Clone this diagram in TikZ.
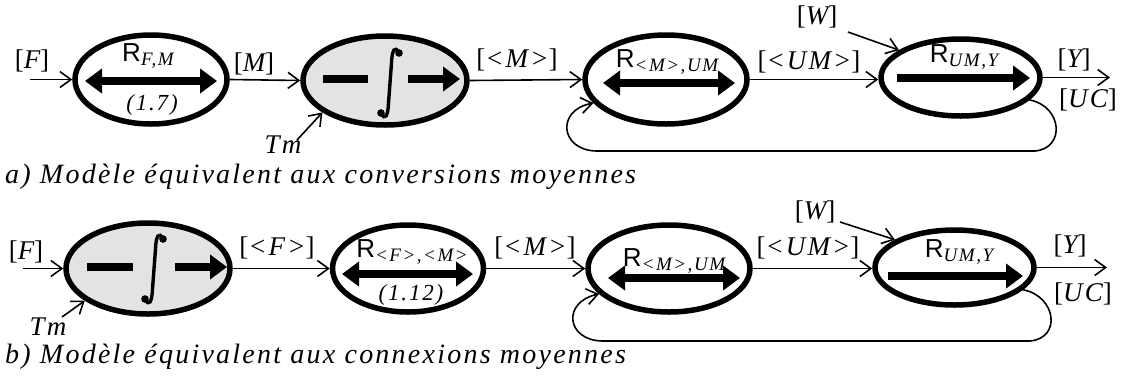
\documentclass[tikz,border=0pt]{standalone}
\usepackage{fontspec}
\setmainfont{Liberation Serif}
\newfontfamily\sansR{Liberation Sans}
\newfontfamily\spaced[LetterSpace=8,ItalicFont={Liberation Serif Italic}]{Liberation Serif}
\usetikzlibrary{arrows.meta,shapes.geometric}
\tikzset{
 ell/.style={ellipse, draw, line width=5.5pt, inner sep=0pt},
 shadedell/.style={ell, fill=black!11},
 conn/.style={line width=1.6pt, -{Straight Barb[length=11pt,width=16pt,line width=1.6pt]}},
 fb/.style={line width=1.6pt, -{Straight Barb[length=11pt,width=16pt,line width=1.6pt]}},
 lbl/.style={inner sep=0pt, font=\spaced\itshape\fontsize{27}{30}\selectfont},
 thickarr/.style={line width=7.5pt, -{Triangle[length=17pt,width=24pt]}},
 dblarr/.style={line width=7.5pt, {Triangle[length=17pt,width=24pt]}-{Triangle[length=17pt,width=24pt]}},
 barline/.style={line width=7.5pt},
 integ/.style={line width=3.4pt, line cap=round},
 rl/.style={inner sep=0pt},
 captxt/.style={inner sep=0pt, anchor=base west, font=\spaced\itshape\fontsize{28}{30}\selectfont},
 eqn/.style={inner sep=0pt, font=\spaced\itshape\fontsize{23}{26}\selectfont}
}
\newcommand\Rlab[1]{{\sansR\fontsize{26}{28}\selectfont R}\raisebox{-4pt}{\spaced\itshape\fontsize{19}{21}\selectfont #1}}
\newcommand\brk[1]{{\upshape[}#1{\upshape]}}
\newcommand\integralsign[2]{%
  \draw[integ] (#1+9,#2-30) .. controls (#1+5,#2-38) and (#1+2,#2-33) .. (#1+1.5,#2-20) -- (#1-1.5,#2+20) .. controls (#1-2,#2+33) and (#1-5,#2+38) .. (#1-9,#2+30);
  \fill (#1+9,#2-30) circle[radius=3.8pt];
  \fill (#1-9,#2+30) circle[radius=3.8pt];}
\begin{document}
\begin{tikzpicture}[x=1pt,y=-1pt]
\useasboundingbox (0,0) rectangle (1125,376);
% ---------------- row a ----------------
\node[ell, minimum width=152pt, minimum height=89pt] (a1) at (151,79.5) {};
\node[shadedell, minimum width=164pt, minimum height=89pt] (a2) at (385,80.5) {};
\node[ell, minimum width=162pt, minimum height=89pt] (a3) at (666,79.5) {};
\node[ell, minimum width=159pt, minimum height=77pt] (a4) at (960.5,77.5) {};
% inner glyphs
\draw[dblarr] (85,81) -- (217,81);
\draw[barline] (323,79) -- (368,79);
\integralsign{390}{83}
\draw[thickarr] (408,79) -- (460,79);
\draw[dblarr] (603,83) -- (735,83);
\draw[thickarr] (897,78) -- (1030,78);
% inner labels
\node[rl] (ra1) at (148,56) {\Rlab{F,M}};
\node[eqn] (eqa1) at (152,105) {(1.7)};
\node[rl] (ra3) at (667,62) {\Rlab{<M>,UM}};
\node[rl] (ra4) at (964,57) {\Rlab{UM,Y}};
% outer labels
\node[lbl] (lFa) at (32,61) {\brk{F}};
\node[lbl] (lMa) at (254,64) {\brk{M}};
\node[lbl] (lTma) at (283,145) {Tm};
\node[lbl] (lAMa) at (517,60) {\brk{<M>}};
\node[lbl] (lUMa) at (809,62) {\brk{<UM>}};
\node[lbl] (lWa) at (817,17) {\brk{W}};
\node[lbl] (lYa) at (1074,60) {\brk{Y}};
\node[lbl] (lUCa) at (1088,100) {\brk{UC}};
% connectors
\coordinate (Fa) at (30,79.5);
\coordinate (Tma) at (297,140);
\coordinate (Wa) at (848,32);
\coordinate (Ya) at (1110,77.5);
\draw[conn] (Fa) -- (a1.west);
\draw[conn] (a1.east) -- (a2.west);
\draw[conn] (Tma) -- (a2.207);
\draw[conn] (a2.east) -- (a3.west);
\draw[conn] (a3.east) -- (a3.east -| a4.west);
\draw[conn] (Wa) -- (a4.156);
\draw[conn] (a4.east) -- (Ya);
\draw[fb] (a4.342) .. controls (1062,106) and (1066,148) .. (1035,151) -- (596,151) .. controls (560,150) and (556,110) .. (a3.198);
\node[captxt] (capa) at (5,183) {a) Modèle équivalent aux conversions moyennes};
% ---------------- row b ----------------
\node[shadedell, minimum width=164pt, minimum height=91pt] (b1) at (148,268.5) {};
\node[ell, minimum width=151pt, minimum height=87pt] (b2) at (408,268.5) {};
\node[ell, minimum width=162pt, minimum height=87pt] (b3) at (669,268.5) {};
\node[ell, minimum width=159pt, minimum height=75pt] (b4) at (954.5,267.5) {};
\draw[barline] (87,267) -- (133,267);
\integralsign{154}{269}
\draw[thickarr] (175,267) -- (227,267);
\draw[dblarr] (342,274) -- (473,274);
\draw[dblarr] (608,278) -- (740,278);
\draw[thickarr] (888,276) -- (1023,276);
\node[rl] (rb2) at (412,252) {\Rlab{<F>,<M>}};
\node[eqn] (eqb2) at (411,295) {(1.12)};
\node[rl] (rb3) at (674,261) {\Rlab{<M>,UM}};
\node[rl] (rb4) at (959,252) {\Rlab{UM,Y}};
\node[lbl] (lFb) at (26,252) {\brk{F}};
\node[lbl] (lTmb) at (48,327) {Tm};
\node[lbl] (lAFb) at (277,248) {\brk{<F>}};
\node[lbl] (lAMb) at (535,248) {\brk{<M>}};
\node[lbl] (lUMb) at (808,248) {\brk{<UM>}};
\node[lbl] (lWb) at (815,212) {\brk{W}};
\node[lbl] (lYb) at (1070,246) {\brk{Y}};
\node[lbl] (lUCb) at (1083,294) {\brk{UC}};
\coordinate (Fb) at (23,268.5);
\coordinate (Tmb) at (62,317);
\coordinate (Wb) at (840,222);
\coordinate (Yb) at (1107,267.5);
\draw[conn] (Fb) -- (b1.west);
\draw[conn] (Tmb) -- (b1.207);
\draw[conn] (b1.east) -- (b2.west);
\draw[conn] (b2.east) -- (b3.west);
\draw[conn] (b3.east) -- (b3.east -| b4.west);
\draw[conn] (Wb) -- (b4.155);
\draw[conn] (b4.east) -- (Yb);
\draw[fb] (b4.342) .. controls (1056,296) and (1062,338) .. (1030,341) -- (602,341) .. controls (566,340) and (562,302) .. (b3.200);
\node[captxt] (capb) at (5,363) {b) Modèle équivalent aux connexions moyennes};
\end{tikzpicture}
\end{document}
